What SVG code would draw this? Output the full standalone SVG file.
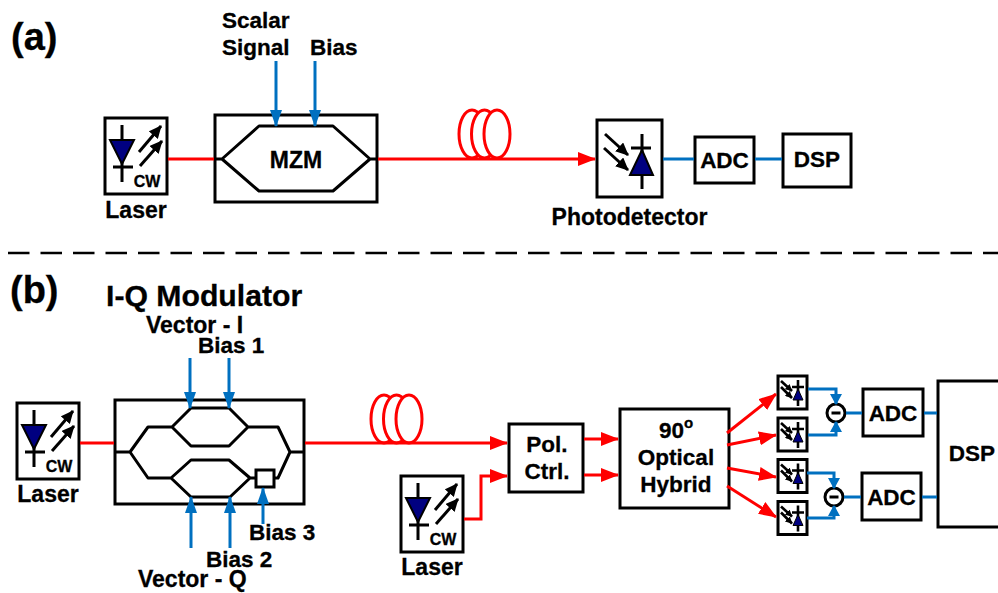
<svg xmlns="http://www.w3.org/2000/svg" width="998" height="593" viewBox="0 0 998 593">
<style>
text{font-family:"Liberation Sans",Arial,sans-serif;font-weight:700;fill:#000;font-size:22.5px;stroke:#000;stroke-width:.3}
.m{text-anchor:middle}
.l{font-size:23px}
.box{fill:#fff;stroke:#000;stroke-width:3}
.wg{fill:none;stroke:#000;stroke-width:3;stroke-linejoin:round}
.k{fill:none;stroke:#000;stroke-width:3}
.k2{fill:none;stroke:#000;stroke-width:2.600}
.red{fill:none;stroke:#f00;stroke-width:3}
.coil ellipse{fill:#fff;stroke:#f00;stroke-width:3}
.blue{fill:none;stroke:#0070c0;stroke-width:3}
.ra{marker-end:url(#rh)}
.ba{marker-end:url(#bh)}
.bs{marker-end:url(#bs)}
.d{fill:#000080;stroke:#000;stroke-width:2}
.circ{fill:#fff;stroke:#000;stroke-width:3}
</style>
<defs>
<marker id="rh" markerUnits="userSpaceOnUse" markerWidth="18" markerHeight="14" refX="17" refY="7" orient="auto"><path d="M0 0L18 7L0 14z" fill="#f00"/></marker>
<marker id="bh" markerUnits="userSpaceOnUse" markerWidth="17" markerHeight="12" refX="16" refY="6" orient="auto"><path d="M0 0L17 6L0 12z" fill="#0070c0"/></marker>
<marker id="bs" markerUnits="userSpaceOnUse" markerWidth="11" markerHeight="12" refX="10" refY="6" orient="auto"><path d="M0 0L11 6L0 12z" fill="#0070c0"/></marker>
<marker id="kh" markerUnits="userSpaceOnUse" markerWidth="13" markerHeight="12" refX="12" refY="6" orient="auto"><path d="M0 0L13 6L0 12z" fill="#000"/></marker>
<marker id="ks" markerUnits="userSpaceOnUse" markerWidth="7" markerHeight="7" refX="6.500" refY="3.500" orient="auto"><path d="M0 0L7 3.500L0 7z" fill="#000"/></marker>
<g id="laser">
<rect class="box" x="0" y="0" width="62" height="76"/>
<path class="k" d="M17 7V64M8 49H28"/>
<path class="d" d="M5 22H29L17 46z"/>
<path class="k" d="M34 34L56 8" marker-end="url(#kh)"/>
<path class="k" d="M35 48L57 23" marker-end="url(#kh)"/>
<text x="42" y="69" class="m" style="font-size:16px">CW</text>
</g>
<g id="pd">
<rect class="box" x="0" y="0" width="65" height="77"/>
<path class="k" d="M45 14V69M34 28H54"/>
<path class="d" d="M33 55H56L45 30z"/>
<path class="k" d="M8 14L31 35" marker-end="url(#kh)"/>
<path class="k" d="M7 28L31 50" marker-end="url(#kh)"/>
</g>
<g id="pds">
<rect class="box" x="0" y="0" width="29" height="33"/>
<path class="k2" d="M20 4V30M14 11H26"/>
<path d="M15 24H25L20 13z" fill="#000080" stroke="#000" stroke-width="1"/>
<path class="k2" d="M3 5L14 15" marker-end="url(#ks)"/>
<path class="k2" d="M3 11L14 22" marker-end="url(#ks)"/>
</g>
</defs>

<rect width="998" height="593" fill="#fff"/>
<text x="11" y="50" style="font-size:38px">(a)</text>
<text x="10" y="303" style="font-size:38px">(b)</text>
<path d="M-24.500 253H998" fill="none" stroke="#000" stroke-width="2.500" stroke-dasharray="21.500 11"/>
<text x="106" y="306" style="font-size:30.200px">I-Q Modulator</text>

<g id="laser-a"><use href="#laser" x="105" y="118"/><text x="136" y="218" class="m l">Laser</text></g>
<g id="mzm">
<rect class="box" x="215" y="115" width="162" height="87"/>
<path class="wg" d="M215 159H222L259 126H333L370 159H377M222 159L259 191H333L370 159"/>
<text x="296" y="168" class="m l">MZM</text>
</g>
<g id="inputs-a"><text x="222" y="28">Scalar</text><text x="222" y="55">Signal</text><text x="310" y="55">Bias</text></g>
<g id="fiber-a" class="coil"><ellipse cx="472" cy="134" rx="13" ry="24"/><ellipse cx="484.500" cy="134" rx="13" ry="24"/><ellipse cx="497" cy="134" rx="13" ry="24"/></g>
<g id="pd-a"><use href="#pd" x="597" y="120"/><text x="629.500" y="225" class="m l">Photodetector</text></g>
<g id="adc-a"><rect class="box" x="695" y="137" width="59" height="46"/><text x="724.500" y="168" class="m">ADC</text></g>
<g id="dsp-a"><rect class="box" x="783" y="134" width="68" height="53"/><text x="817" y="167" class="m">DSP</text></g>

<g id="laser-b"><use href="#laser" x="17" y="403"/><text x="48" y="502" class="m l">Laser</text></g>
<g id="iq">
<rect class="box" x="115" y="400" width="189" height="104"/>
<path class="wg" d="M115 452H130L148 427H172L191 408H229L248 427H278L290 452H304M172 427L191 446H229L248 427M130 452L148 478H171L191 460H229L250 478H256M171 478L191 497H230L250 478M274 478H278L290 452"/>
<rect class="box" x="256" y="470" width="18" height="17"/>
</g>
<g id="labels-b">
<text x="146" y="333" class="l">Vector - I</text><text x="198" y="353">Bias 1</text>
<text x="249" y="540">Bias 3</text><text x="206" y="567">Bias 2</text><text x="138" y="587" class="l">Vector - Q</text>
</g>
<g id="fiber-b" class="coil"><ellipse cx="384" cy="419" rx="13" ry="24"/><ellipse cx="396.500" cy="419" rx="13" ry="24"/><ellipse cx="409" cy="419" rx="13" ry="24"/></g>
<g id="laser-c"><use href="#laser" x="401" y="476"/><text x="432" y="575" class="m l">Laser</text></g>
<g id="pol"><rect class="box" x="509" y="424" width="74" height="68"/><text x="547" y="452" class="m">Pol.</text><text x="547" y="479" class="m">Ctrl.</text></g>
<g id="hybrid"><rect class="box" x="620" y="409" width="109" height="99"/>
<text x="676" y="438" class="m">90<tspan dy="-10" style="font-size:15px">o</tspan></text>
<text x="676" y="465" class="m">Optical</text><text x="676" y="492" class="m">Hybrid</text></g>
<g id="pd1"><use href="#pds" x="778" y="376"/></g>
<g id="pd2"><use href="#pds" x="778" y="418"/></g>
<g id="pd3"><use href="#pds" x="778" y="459.500"/></g>
<g id="pd4"><use href="#pds" x="778" y="501.500"/></g>
<g id="sub1"><circle class="circ" cx="836" cy="413" r="9"/><path class="k" d="M831.500 413H840.500"/></g>
<g id="sub2"><circle class="circ" cx="834" cy="497" r="9"/><path class="k" d="M829.500 497H838.500"/></g>
<g id="adc1"><rect class="box" x="863" y="389" width="60" height="47"/><text x="893" y="421" class="m">ADC</text></g>
<g id="adc2"><rect class="box" x="862" y="473" width="59" height="47"/><text x="891.500" y="505" class="m">ADC</text></g>
<g id="dsp-b"><rect class="box" x="938" y="381" width="70" height="146"/><text x="972" y="461" class="m">DSP</text></g>

<g id="connectors">
<path class="red" d="M168 159H214"/>
<path class="red ra" d="M378 159H595"/>
<path class="blue" d="M663 159H694M755 159H782"/>
<path class="blue ba" d="M276 61V126"/>
<path class="blue ba" d="M315 61V126"/>
<path class="red" d="M80 443H114"/>
<path class="red ra" d="M305 443H507"/>
<path class="red ra" d="M464 519H481V476H507"/>
<path class="red ra" d="M584 439H618"/>
<path class="red ra" d="M584 475H618"/>
<path class="red ra" d="M727 433L776 394"/>
<path class="red ra" d="M727 445L776 435"/>
<path class="red ra" d="M727 468L776 477"/>
<path class="red ra" d="M727 486L776 517"/>
<path class="blue ba" d="M190 358V408"/>
<path class="blue ba" d="M229 358V408"/>
<path class="blue ba" d="M191 548V497"/>
<path class="blue ba" d="M230 548V497"/>
<path class="blue ba" d="M263 524V488"/>
<path class="blue bs" d="M808 389H836V404"/>
<path class="blue bs" d="M808 435H836V422"/>
<path class="blue bs" d="M807 473H834V488"/>
<path class="blue bs" d="M807 518H834V506"/>
<path class="blue" d="M846 413H862M924 413H937M844 497H861M922 497H937"/>
</g>
</svg>
